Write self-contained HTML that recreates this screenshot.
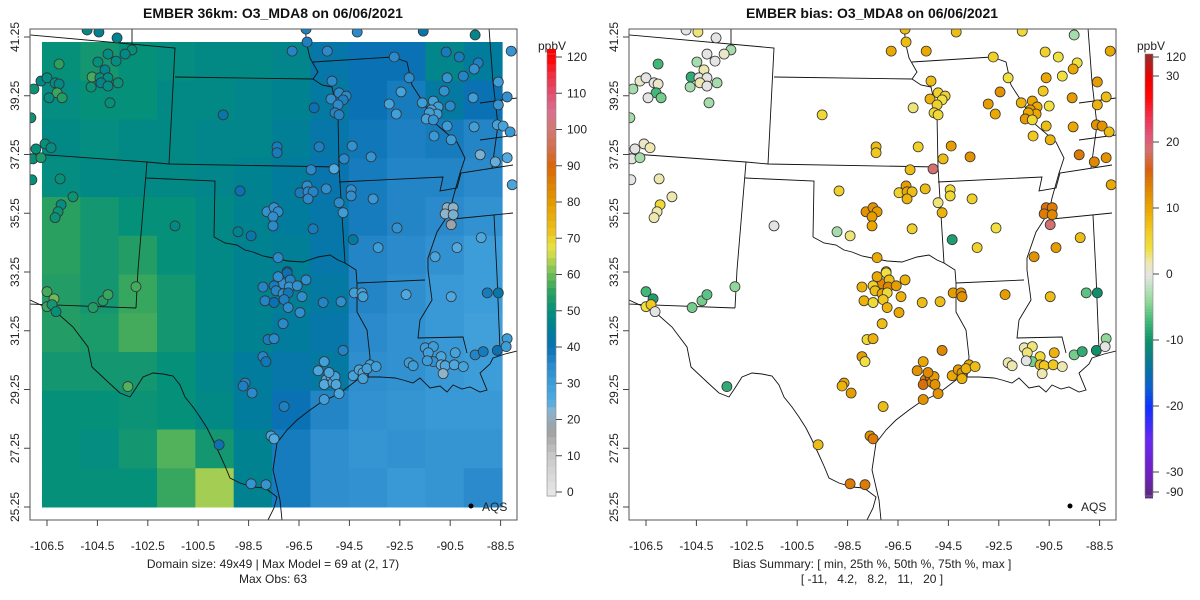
<!DOCTYPE html>
<html><head><meta charset="utf-8"><style>
html,body{margin:0;padding:0;background:#fff}
svg{display:block;font-family:"Liberation Sans",sans-serif}
</style></head><body>
<svg id="chart" width="1200" height="600" viewBox="0 0 1200 600" xmlns="http://www.w3.org/2000/svg">
<defs>
<clipPath id="clipL"><rect x="30" y="29" width="487" height="491"/></clipPath>
<clipPath id="clipR"><rect x="30" y="29" width="487" height="491"/></clipPath>
</defs>
</svg>
<script>
// ---- data ----
const lonTicks = [-106.5,-104.5,-102.5,-100.5,-98.5,-96.5,-94.5,-92.5,-90.5,-88.5];
const latTicks = [41.25,39.25,37.25,35.25,33.25,31.25,29.25,27.25,25.25];
const gridLonMin = -106.70, gridLonMax = -88.44, gridLatMin = 25.25, gridLatMax = 41.08;
const modelGrid = [
 [50,52,50,49,48,48,47,42,40,40,47,44],
 [49,50,50,48,48,47,46,43,40,38,43,40],
 [48,49,48,48,47,47,45,42,39,37,38,36],
 [49,48,48,48,47,46,44,41,38,36,36,35],
 [55,52,50,50,48,46,44,42,38,36,35,33],
 [55,52,54,50,48,46,45,42,36,35,33,30],
 [54,52,56,52,48,46,45,43,36,34,31,30],
 [54,53,57,52,48,46,44,42,35,33,31,29],
 [52,52,52,50,47,44,42,43,34,33,31,30],
 [50,50,51,50,48,44,40,36,33,32,31,31],
 [50,49,52,58,52,46,38,34,32,33,32,32],
 [50,50,50,56,63,46,38,34,33,31,32,35]
];
// stations: lon, lat
const stLon = [-104.91,-104.44,-103.72,-103.13,-103.40,-104.08,-103.76,-106.02,-104.48,-104.20,-104.71,-104.40,-104.08,-104.36,-104.08,-103.68,-104.75,-106.74,-106.50,-106.18,-106.02,-107.02,-106.10,-105.90,-106.42,-104.00,-107.14,-106.94,-106.58,-106.34,-107.06,-106.74,-107.10,-105.98,-105.47,-105.94,-106.06,-106.18,-101.42,-99.51,-96.77,-96.18,-96.22,-95.38,-94.19,-91.57,-89.51,-92.72,-90.66,-90.14,-89.39,-89.55,-92.13,-90.62,-89.98,-88.59,-88.08,-95.19,-94.91,-94.63,-95.23,-94.75,-94.95,-95.07,-94.91,-95.90,-92.45,-92.92,-92.64,-91.61,-91.17,-90.98,-91.25,-91.02,-91.33,-91.45,-91.17,-90.74,-90.50,-89.59,-88.59,-88.24,-90.62,-89.55,-88.63,-88.40,-88.12,-91.14,-90.46,-89.31,-88.71,-88.24,-88.04,-97.37,-97.37,-95.70,-94.39,-94.71,-93.64,-95.11,-96.02,-98.84,-96.46,-96.18,-96.14,-95.94,-96.14,-95.42,-94.43,-94.43,-94.91,-94.75,-93.56,-97.77,-97.49,-97.33,-97.53,-97.53,-98.92,-98.40,-95.94,-94.35,-93.36,-92.61,-90.62,-90.38,-90.70,-90.38,-90.46,-89.27,-90.23,-91.10,-97.33,-96.97,
-106.50,-106.22,-106.50,-106.30,-106.14,-104.67,-104.28,-104.08,-102.97,-103.29,-97.13,-97.33,-96.97,-96.85,-96.89,-96.57,-96.22,-97.93,-97.49,-97.41,-97.13,-96.93,-96.38,-97.85,-97.49,-97.09,-96.93,-96.46,-97.13,-95.54,-94.83,-94.31,-94.00,-93.96,-92.25,-90.46,-89.03,-88.59,-97.73,-97.49,-97.93,-97.81,-94.75,-95.50,-95.74,-95.42,-95.23,-95.50,-95.15,-95.07,-95.31,-95.03,-98.64,-98.72,-98.36,-94.35,-94.11,-93.96,-93.68,-93.80,-93.44,-93.96,-94.91,-95.50,-97.09,-97.61,-97.49,-99.67,-98.40,-97.81,-92.13,-91.97,-91.49,-91.17,-91.37,-90.86,-91.17,-91.41,-90.86,-90.70,-90.34,-90.30,-89.98,-90.78,-89.51,-89.19,-88.63,-88.24,-88.28];
const stLat = [41.49,41.42,41.22,40.81,40.67,40.67,40.43,40.33,40.40,40.13,39.89,39.86,39.86,39.69,39.58,39.69,39.55,39.75,39.86,39.69,39.65,39.48,39.35,39.18,39.18,39.01,38.50,37.44,37.61,37.48,37.10,37.14,36.39,36.42,35.81,35.54,35.30,35.10,34.82,38.60,40.77,41.08,41.52,40.77,41.42,41.45,41.32,40.57,40.74,40.57,40.37,40.16,39.86,39.86,39.92,39.72,40.77,39.75,39.35,39.24,39.14,39.11,38.94,38.67,38.60,38.84,39.38,38.97,38.63,39.01,39.07,38.87,38.77,38.63,38.67,38.46,38.43,39.41,38.90,39.18,38.94,39.21,38.22,38.19,38.26,38.22,38.02,37.88,37.75,37.24,37.00,37.14,36.22,37.51,37.31,37.51,37.54,37.10,37.17,36.76,36.73,36.01,35.95,36.18,35.98,35.98,35.74,36.08,36.05,35.84,35.61,35.27,35.74,35.30,35.44,35.30,35.13,34.82,34.62,34.48,34.72,34.35,34.08,34.75,35.44,35.44,35.23,35.20,34.86,34.42,34.08,33.77,33.74,33.26,
32.58,32.34,32.07,32.14,31.90,32.04,32.27,32.48,32.75,29.35,32.85,33.09,33.22,32.98,32.74,32.78,32.98,32.74,32.78,32.61,32.51,32.54,32.41,32.27,32.21,32.31,32.04,31.87,31.49,32.21,32.24,32.54,32.54,32.41,32.48,32.41,32.54,32.54,30.95,30.98,30.37,30.20,30.58,30.20,29.89,29.58,29.69,29.42,29.49,29.69,29.83,29.42,29.47,29.37,29.13,29.72,29.92,29.82,30.09,29.96,30.03,29.62,29.11,28.91,28.67,27.67,27.57,27.37,26.04,26.01,30.16,30.06,30.67,30.71,30.50,30.37,30.20,30.23,30.09,30.06,30.09,30.50,30.03,29.79,30.43,30.54,30.58,30.98,30.71];
const stObs = [48,46,46,50,48,49,49,55,50,47,57,49,49,47,49,51,51,48,49,49,48,51,56,54,49,50,51,50,50,49,50,53,50,50,51,49,51,51,48,42,36,37,37,35,35,42,47,35,38,38,37,33,34,32,36,30,32,35,35,35,34,37,35,36,36,40,28,28,29,30,29,29,28,29,29,28,32,33,35,30,32,33,30,29,28,28,31,31,30,23,24,25,27,38,38,37,33,35,32,25,35,40,38,34,35,36,35,34,34,34,35,30,31,33,33,34,34,35,46,42,38,43,30,33,21,22,22,23,18,26,25,27,35,40,
57,60,56,52,50,54,54,56,57,58,33,34,40,36,32,33,34,36,38,36,34,39,34,36,40,37,35,34,35,36,34,29,28,28,26,26,38,42,38,35,36,39,36,29,27,26,25,25,26,28,27,26,36,37,35,28,27,26,28,29,29,28,27,29,37,27,25,40,32,32,30,30,30,30,29,27,33,30,24,26,26,28,28,22,36,38,40,30,30];
const stBias = [0,3,0,-3,1,0,0,-7,-3,2,-8,0,0,2,0,-3,-3,1,0,0,1,-3,-7,-5,0,-3,-3,0,1,2,0,-3,0,2,2,5,2,2,0,5,10,8,8,10,8,5,-3,6,6,4,4,10,4,10,4,11,10,8,6,6,9,4,6,5,5,3,12,11,10,9,10,10,11,10,10,11,5,7,4,11,9,8,8,10,12,12,8,7,9,14,13,12,10,8,7,6,11,8,12,19,8,6,6,11,10,8,9,8,5,5,3,9,6,12,12,11,11,10,-3,3,6,-9,6,4,15,14,14,13,19,8,11,12,10,5,
-7,-9,4,7,0,-5,-5,-6,-4,-8,13,10,4,8,13,11,9,9,6,8,10,5,9,9,5,7,9,10,8,8,8,11,12,12,11,8,-6,-10,5,9,11,4,13,10,12,14,15,15,13,11,13,12,10,9,11,10,11,12,10,9,8,9,12,12,8,12,14,8,14,14,2,2,2,3,3,5,-5,0,8,7,7,9,2,2,-5,-8,-10,-4,0];
const modelCbTicks = [0,10,20,30,40,50,60,70,80,90,100,110,120];
const biasCbTicks = ["-90","-30","-20","-10","0","10","20","30","120"];
const biasCbVals = [-90,-30,-20,-10,0,10,20,30,120];

// ---- helpers ----
const NS = "http://www.w3.org/2000/svg";
const svg = document.getElementById('chart');
function el(tag, attrs, parent){const e=document.createElementNS(NS,tag);for(const k in attrs)e.setAttribute(k,attrs[k]);(parent||svg).appendChild(e);return e;}
const xOf = lon => 47 + (lon + 106.5) * 25.2;
const yOf = lat => 37 + (41.25 - lat) * 29.375;
function hex(h){return [parseInt(h.slice(1,3),16),parseInt(h.slice(3,5),16),parseInt(h.slice(5,7),16)];}
function interp(stops,v){
  if(v<=stops[0][0])return stops[0][1];
  for(let i=1;i<stops.length;i++){if(v<=stops[i][0]){const a=stops[i-1],b=stops[i];const t=(v-a[0])/(b[0]-a[0]);const c1=hex(a[1]),c2=hex(b[1]);return 'rgb('+c1.map((c,j)=>Math.round(c+(c2[j]-c)*t)).join(',')+')';}}
  return stops[stops.length-1][1];
}
const modelStops=[[0,'#e6e6e6'],[10,'#c8c8c8'],[17,'#a0a0a0'],[22,'#8eb4cc'],[25,'#52abe0'],[30,'#3d9dd9'],[35,'#2a8acb'],[40,'#0a72b4'],[45,'#007f96'],[50,'#05907a'],[55,'#2aa060'],[60,'#6cbc58'],[65,'#c8d850'],[68,'#e8e040'],[72,'#ecc020'],[80,'#e29a00'],[90,'#d8660a'],[95,'#d07050'],[100,'#d07a70'],[105,'#d87090'],[110,'#e05070'],[115,'#f03040'],[120,'#ff0000']];
const biasStops=[[-30,'#7020c0'],[-25,'#6a28f0'],[-20,'#1030ff'],[-17,'#0a60d0'],[-13,'#0a7a90'],[-10,'#10906a'],[-7,'#40b878'],[-4,'#90d898'],[-1,'#d0e4d0'],[0,'#e4e4e4'],[2,'#ede8b0'],[4,'#f0e040'],[7,'#f0c820'],[10,'#eba800'],[13,'#e08800'],[16,'#d86010'],[19,'#d47070'],[21,'#e05878'],[24,'#f03050'],[27,'#ff0808'],[30,'#ee0000']];
const modelColor=v=>interp(modelStops,v);
const biasColor=v=>interp(biasStops,v);

// map geometry (left-panel pixel coords)
const borders = [
 [[20,34],[175,48],[169,164]],
 [[132,28],[132,44]],
 [[175,77],[313,79]],
 [[313,79],[318,72],[310,58],[307,45],[305,28]],
 [[20,153],[147,162],[169,164],[339,167]],
 [[313,79],[322,85],[332,87],[338,115],[339,167]],
 [[147,162],[138,270],[136,308]],
 [[28,304],[136,308]],
 [[146,178],[215,181],[214,237]],
 [[214,237],[225,243],[237,245],[245,250],[253,252],[263,256],[273,258],[288,261],[303,262],[318,257],[330,255],[338,260],[345,263]],
 [[339,167],[345,263],[356,270],[357,283],[357,312],[367,330],[370,357],[368,377]],
 [[339,182],[443,177],[440,191],[457,188],[461,173],[513,165]],
 [[357,283],[425,280]],
 [[313,62],[393,57]],
 [[393,57],[407,62],[412,85],[423,102],[437,125],[457,142],[465,158],[460,173],[453,198],[450,212],[437,232],[428,258],[428,270],[432,300],[420,320],[418,338],[463,337],[467,353]],
 [[489,28],[493,82],[498,125],[492,168]],
 [[494,215],[497,275],[500,350]],
 [[453,219],[513,213]],
 [[30,300],[56,312],[73,327],[88,347],[92,367],[108,382],[120,393],[130,397],[136,388],[143,377],[153,373],[163,374],[173,376],[180,385],[185,397],[193,407],[200,417],[207,428],[213,440],[220,455],[225,466],[230,478],[240,483],[253,487],[265,488],[277,497],[274,508],[268,520]],
 [[282,520],[280,500],[273,470],[277,443],[287,430],[297,420],[310,410],[320,403],[340,393],[357,380],[368,377],[380,377],[395,378],[403,380],[413,383],[420,378],[430,388],[440,386],[447,392],[453,385],[462,389],[470,387],[480,392],[487,390],[480,373],[490,364],[493,358],[505,354],[517,351]],
 [[480,103],[517,98]],[[480,140],[517,135]]
];

function drawPanel(ox, mode){
  const g = el('g',{transform:'translate('+ox+',0)'});
  
  
  const cp = mode==='model'?'url(#clipL)':'url(#clipR)';
  const inner = el('g',{'clip-path':cp},g);
  if(mode==='model'){
    const raster = el('g',{},inner);
    
    
    const nr=modelGrid.length, nc=modelGrid[0].length;
    const dLon=(gridLonMax-gridLonMin)/nc, dLat=(gridLatMax-gridLatMin)/nr;
    for(let r=0;r<nr;r++)for(let c=0;c<nc;c++){
      const x0=xOf(gridLonMin+c*dLon), x1=xOf(gridLonMin+(c+1)*dLon);
      const y0=yOf(gridLatMax-r*dLat), y1=yOf(gridLatMax-(r+1)*dLat);
      const cell=el('rect',{x:x0,y:y0,width:x1-x0+0.5,height:y1-y0+0.5,fill:modelColor(modelGrid[r][c])},raster);
      
      
    }
  }
  const bg = el('g',{fill:'none',stroke:'#111','stroke-width':'0.9'},inner);
  
  
  borders.forEach(b=>el('polyline',{points:b.map(p=>p.join(',')).join(' ')},bg));
  const sg = el('g',{},inner);
  
  
  for(let i=0;i<stLon.length;i++){
    const v = mode==='model'?stObs[i]:stBias[i];
    const c=el('circle',{cx:xOf(stLon[i]),cy:yOf(stLat[i]),r:5,fill:mode==='model'?modelColor(v):biasColor(v),stroke:'#333','stroke-width':'0.8'},sg);
    
    
  }
  // box
  const box=el('rect',{x:30,y:29,width:487,height:491,fill:'none',stroke:'#555','stroke-width':'1'},g);
  
  
  // x ticks
  const xa=el('g',{'font-size':'12',fill:'#222','text-anchor':'middle'},g);
  
  
  lonTicks.forEach(t=>{const x=xOf(t);el('line',{x1:x,x2:x,y1:520,y2:526,stroke:'#444'},xa);const tx=el('text',{x:x,y:550},xa);tx.textContent=t.toFixed(1);});
  const ya=el('g',{'font-size':'12',fill:'#222','text-anchor':'middle'},g);
  
  
  latTicks.forEach(t=>{const y=yOf(t);el('line',{x1:24,x2:30,y1:y,y2:y,stroke:'#444'},ya);const tx=el('text',{x:19,y:y,transform:'rotate(-90 19 '+y+')'},ya);tx.textContent=t.toFixed(2);});
  // legend
  const lg=el('g',{},g);
  
  
  el('circle',{cx:471,cy:506,r:2.5,fill:'#000'},lg);
  const lt=el('text',{x:482,y:511,'font-size':'12',fill:'#222'},lg);lt.textContent='AQS';
  // title
  const tt=el('text',{x:273,y:18,'font-size':'14','font-weight':'bold','text-anchor':'middle',fill:'#111'},g);
  
  
  tt.textContent = mode==='model'?'EMBER 36km: O3_MDA8 on 06/06/2021':'EMBER bias: O3_MDA8 on 06/06/2021';
  const s1=el('text',{x:273,y:568,'font-size':'12','text-anchor':'middle',fill:'#222'},g);
  
  
  const s2=el('text',{x:273,y:583,'font-size':'12','text-anchor':'middle',fill:'#222','xml:space':'preserve'},g);
  
  
  if(mode==='model'){s1.textContent='Domain size: 49x49 | Max Model = 69 at (2, 17)';s2.textContent='Max Obs: 63';}
  else{s1.textContent='Bias Summary: [ min, 25th %, 50th %, 75th %, max ]';s2.textContent='[ -11,   4.2,   8.2,   11,   20 ]';s2.setAttribute('style','white-space:pre');}
  // colorbar
  const cb=el('g',{},g);
  
  
  const ut=el('text',{x:552,y:50,'font-size':'12','text-anchor':'middle',fill:'#222'},cb);ut.textContent='ppbV';
  const top=54, bot=496, n=60;
  if(mode==='model'){
    const vy=v=>492-(v/120)*435;
    for(let i=0;i<n;i++){const v0=-1.2+i*(123.4/n);const y0=vy(v0+123.4/n),y1=vy(v0);el('rect',{x:547,y:y0,width:9,height:y1-y0+0.4,fill:modelColor(v0+1)},cb);}
    el('rect',{x:547,y:top,width:9,height:bot-top,fill:'none',stroke:'#888','stroke-width':'0.6'},cb);
    modelCbTicks.forEach(t=>{const y=vy(t);el('line',{x1:556,x2:562,y1:y,y2:y,stroke:'#444'},cb);const tx=el('text',{x:567,y:y+4,'font-size':'12',fill:'#222'},cb);tx.textContent=t;});
  } else {
    const vy=v=>{if(v>30)return 77-(v-30)/90*20;if(v<-30)return 473+(-30-v)/60*19;return 274-v*6.6;};
    for(let y=top;y<bot;y+=3){
      let v; if(y<77)v=30+(77-y)/20*90; else if(y>473)v=-30-(y-473)/19*60; else v=(274-y)/6.6;
      let c = v>30? interp([[30,'#ee0000'],[120,'#a02828']],v) : v<-30? interp([[-90,'#5e2a86'],[-30,'#7020c0']],v) : biasColor(v);
      el('rect',{x:546,y:y,width:8,height:3.4,fill:c},cb);
    }
    el('rect',{x:546,y:top,width:8,height:bot-top,fill:'none',stroke:'#888','stroke-width':'0.6'},cb);
    biasCbVals.forEach((t,i)=>{const y=vy(t);el('line',{x1:554,x2:560,y1:y,y2:y,stroke:'#444'},cb);const tx=el('text',{x:567,y:y+4,'font-size':'12',fill:'#222'},cb);tx.textContent=biasCbTicks[i];});
  }
}
drawPanel(0,'model');
drawPanel(599,'bias');
</script>
</body></html>
